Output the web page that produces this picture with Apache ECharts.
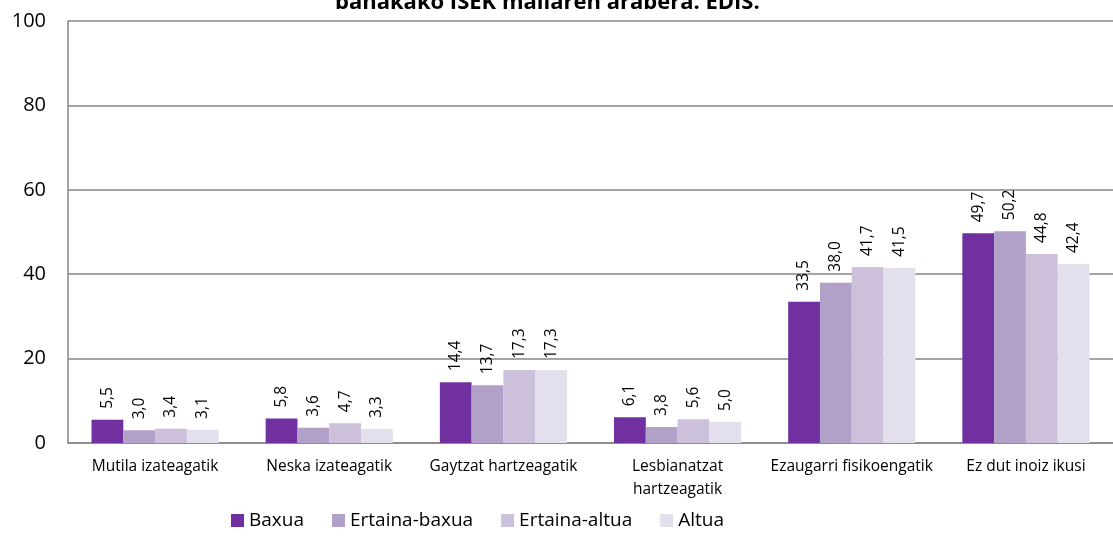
<!DOCTYPE html>
<html>
<head>
<meta charset="utf-8">
<script src="https://cdn.jsdelivr.net/npm/echarts@6/dist/echarts.min.js"></script>
<style>
  html, body { margin: 0; padding: 0; background: #fff; }
  #chart { width: 1113px; height: 550px; }
</style>
</head>
<body>
<div id="chart"></div>
<script>
var categories = ['Mutila izateagatik', 'Neska izateagatik', 'Gaytzat hartzeagatik',
    'Lesbianatzat\nhartzeagatik', 'Ezaugarri fisikoengatik', 'Ez dut inoiz ikusi'];
var seriesNames = ['Baxua', 'Ertaina-baxua', 'Ertaina-altua', 'Altua'];
var baxua = [5.5, 5.8, 14.4, 6.1, 33.5, 49.7];
var ertainaBaxua = [3.0, 3.6, 13.7, 3.8, 38.0, 50.2];
var ertainaAltua = [3.4, 4.7, 17.3, 5.6, 41.7, 44.8];
var altua = [3.1, 3.3, 17.3, 5.0, 41.5, 42.4];
var colors = ['#7030A0', '#B1A0C7', '#CCC0DA', '#E4DFEC'];

var font = '"Open Sans", sans-serif';
var allData = [baxua, ertainaBaxua, ertainaAltua, altua];

var series = allData.map(function (d, i) {
    return {
        name: seriesNames[i],
        type: 'bar',
        data: d,
        barGap: 0,
        barCategoryGap: '27%',
        itemStyle: { color: colors[i] },
        label: {
            show: true,
            position: 'top',
            rotate: 90,
            align: 'left',
            verticalAlign: 'middle',
            distance: 11,
            color: '#000',
            fontFamily: font,
            fontSize: 15.5,
            formatter: function (p) { return p.value.toFixed(1).replace('.', ','); }
        }
    };
});

var myChart = echarts.init(document.getElementById('chart'));
myChart.setOption({
    animation: false,
    title: {
        text: 'banakako ISEK mailaren arabera. EDIS.',
        left: 330,
        top: -13,
        textStyle: { fontFamily: font, fontSize: 22, fontWeight: 'bold', color: '#000' }
    },
    legend: {
        data: seriesNames,
        left: 226,
        top: 506,
        itemWidth: 13,
        itemHeight: 13,
        itemGap: 28,
        icon: 'rect',
        textStyle: { fontFamily: font, fontSize: 19, color: '#000' }
    },
    grid: { left: 68, top: 21, width: 1054, height: 422, containLabel: false },
    xAxis: {
        type: 'category',
        data: categories,
        axisLine: { lineStyle: { color: '#868686', width: 1.5 } },
        axisTick: { show: false },
        axisLabel: { color: '#000', fontFamily: font, fontSize: 15.5, margin: 12, lineHeight: 23, interval: 0 }
    },
    yAxis: {
        type: 'value',
        min: 0,
        max: 100,
        interval: 20,
        axisLine: { show: true, lineStyle: { color: '#868686', width: 1.5 } },
        axisTick: { show: false },
        splitLine: { lineStyle: { color: '#868686', width: 1.5 } },
        axisLabel: { color: '#000', fontFamily: font, fontSize: 20, margin: 22 }
    },
    series: series
});
</script>
</body>
</html>
